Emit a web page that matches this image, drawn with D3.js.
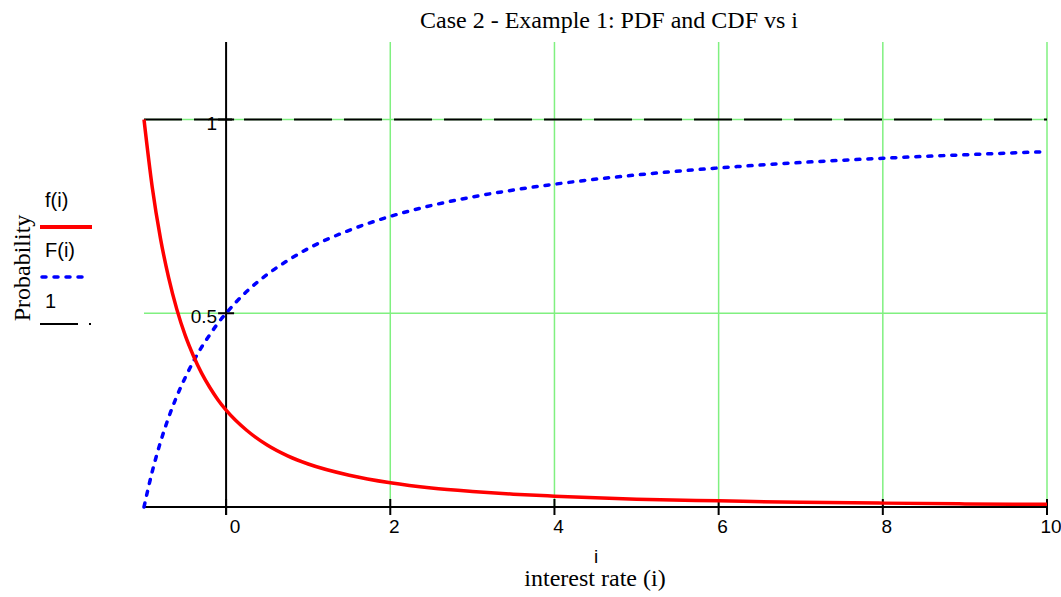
<!DOCTYPE html>
<html>
<head>
<meta charset="utf-8">
<script src="https://cdn.jsdelivr.net/npm/d3@7"></script>
<style>
  body { margin: 0; background: #fff; }
  svg { display: block; }
</style>
</head>
<body>
<div id="chart"></div>
<script>
// values
var xs = [-1, -0.9, -0.8, -0.7, -0.6, -0.5, -0.4, -0.3, -0.2, -0.1, 0, 0.25, 0.5, 0.75, 1,
          1.5, 2, 2.5, 3, 3.5, 4, 5, 6, 7, 8, 9, 10];
var pdf = [1, 0.826, 0.694, 0.592, 0.510, 0.444, 0.391, 0.346, 0.309, 0.277, 0.25, 0.198, 0.16, 0.132, 0.111,
           0.082, 0.0625, 0.049, 0.04, 0.033, 0.028, 0.020, 0.016, 0.012, 0.010, 0.008, 0.007];
var cdf = [0, 0.091, 0.167, 0.231, 0.286, 0.333, 0.375, 0.412, 0.444, 0.474, 0.5, 0.556, 0.6, 0.636, 0.667,
           0.714, 0.75, 0.778, 0.8, 0.818, 0.833, 0.857, 0.875, 0.889, 0.9, 0.909, 0.917];
var oneLine = [1, 1];
var xTicks = [0, 2, 4, 6, 8, 10];
var yTicks = [0.5, 1];
var xDomain = [-1, 10];
var yDomain = [0, 1.2];

var width = 1061, height = 597;
var margin = { left: 144, right: 14, top: 42, bottom: 90 };
var w = width - margin.left - margin.right;
var h = height - margin.top - margin.bottom;

var sans = 'Liberation Sans, Arial, sans-serif';
var serif = 'Liberation Serif, Times New Roman, serif';

var svg = d3.select('#chart').append('svg')
    .attr('width', width)
    .attr('height', height);

var x = d3.scaleLinear().domain(xDomain).range([0, w]);
var y = d3.scaleLinear().domain(yDomain).range([h, 0]);

var g = svg.append('g')
    .attr('transform', 'translate(' + margin.left + ',' + margin.top + ')');

var grid = '#80f080';

// vertical grid lines
g.selectAll('.vgrid').data(xTicks.filter(function (d) { return d !== 0; }))
    .enter().append('line')
    .attr('x1', function (d) { return x(d); })
    .attr('x2', function (d) { return x(d); })
    .attr('y1', 0).attr('y2', h)
    .attr('stroke', grid).attr('stroke-width', 1.5);

// horizontal grid lines
g.selectAll('.hgrid').data(yTicks)
    .enter().append('line')
    .attr('x1', 0).attr('x2', w)
    .attr('y1', function (d) { return y(d); })
    .attr('y2', function (d) { return y(d); })
    .attr('stroke', grid).attr('stroke-width', 1.5);

// x axis line + ticks
g.append('line')
    .attr('x1', 0).attr('x2', w).attr('y1', h).attr('y2', h)
    .attr('stroke', '#000').attr('stroke-width', 2);
g.selectAll('.xtick').data(xTicks)
    .enter().append('line')
    .attr('x1', function (d) { return x(d); })
    .attr('x2', function (d) { return x(d); })
    .attr('y1', h - 8).attr('y2', h + 8)
    .attr('stroke', '#000').attr('stroke-width', 2);
g.selectAll('.xlab').data(xTicks)
    .enter().append('text')
    .attr('x', function (d) { return x(d) + (d === 0 ? 9 : 4); })
    .attr('y', h + 26)
    .attr('text-anchor', 'middle')
    .attr('font-family', sans)
    .attr('font-size', 19)
    .text(function (d) { return d; });

// y axis at x = 0
g.append('line')
    .attr('x1', x(0)).attr('x2', x(0)).attr('y1', 0).attr('y2', h + 8)
    .attr('stroke', '#000').attr('stroke-width', 2);
g.selectAll('.ytick').data(yTicks)
    .enter().append('line')
    .attr('x1', x(0) - 8).attr('x2', x(0) + 8)
    .attr('y1', function (d) { return y(d); })
    .attr('y2', function (d) { return y(d); })
    .attr('stroke', '#000').attr('stroke-width', 2);
g.selectAll('.ylab').data(yTicks)
    .enter().append('text')
    .attr('x', x(0) - 9)
    .attr('y', function (d) { return y(d) + 10; })
    .attr('text-anchor', 'end')
    .attr('font-family', sans)
    .attr('font-size', 19)
    .text(function (d) { return d; });

// constant 1 line
g.append('path')
    .attr('d', d3.line()
        .x(function (d, i) { return x(xDomain[i]); })
        .y(function (d) { return y(d); })(oneLine))
    .attr('fill', 'none').attr('stroke', '#000').attr('stroke-width', 2)
    .attr('stroke-dasharray', '38,12');

var line = d3.line().curve(d3.curveMonotoneX)
    .x(function (d, i) { return x(xs[i]); })
    .y(function (d) { return y(d); });

g.append('path').attr('d', line(cdf))
    .attr('fill', 'none').attr('stroke', '#0000ff').attr('stroke-width', 3.5)
    .attr('stroke-linecap', 'round')
    .attr('stroke-dasharray', '4,8');

g.append('path').attr('d', line(pdf))
    .attr('fill', 'none').attr('stroke', '#ff0000').attr('stroke-width', 3.5);

// legend
var leg = svg.append('g').attr('font-family', sans).attr('font-size', 20);
leg.append('text').attr('x', 45).attr('y', 207).text('f(i)');
leg.append('line').attr('x1', 40).attr('x2', 92).attr('y1', 227).attr('y2', 227)
    .attr('stroke', '#ff0000').attr('stroke-width', 4);
leg.append('text').attr('x', 45).attr('y', 257).text('F(i)');
leg.append('line').attr('x1', 42).attr('x2', 84).attr('y1', 277).attr('y2', 277)
    .attr('stroke', '#0000ff').attr('stroke-width', 3.5)
    .attr('stroke-linecap', 'round').attr('stroke-dasharray', '4,8');
leg.append('text').attr('x', 45).attr('y', 308).text('1');
leg.append('line').attr('x1', 40).attr('x2', 78).attr('y1', 324).attr('y2', 324)
    .attr('stroke', '#000').attr('stroke-width', 2);
leg.append('line').attr('x1', 89).attr('x2', 91).attr('y1', 324).attr('y2', 324)
    .attr('stroke', '#000').attr('stroke-width', 2);

// titles
svg.append('text')
    .attr('x', 609).attr('y', 28)
    .attr('text-anchor', 'middle')
    .attr('font-family', serif)
    .attr('font-size', 24)
    .text('Case 2 - Example 1: PDF and CDF vs i');
svg.append('text')
    .attr('x', 596).attr('y', 563)
    .attr('text-anchor', 'middle')
    .attr('font-family', sans)
    .attr('font-size', 19)
    .text('i');
svg.append('text')
    .attr('x', 595).attr('y', 586)
    .attr('text-anchor', 'middle')
    .attr('font-family', serif)
    .attr('font-size', 24)
    .text('interest rate (i)');
svg.append('text')
    .attr('transform', 'translate(30,268) rotate(-90)')
    .attr('text-anchor', 'middle')
    .attr('font-family', serif)
    .attr('font-size', 24)
    .text('Probability');
</script>
</body>
</html>
